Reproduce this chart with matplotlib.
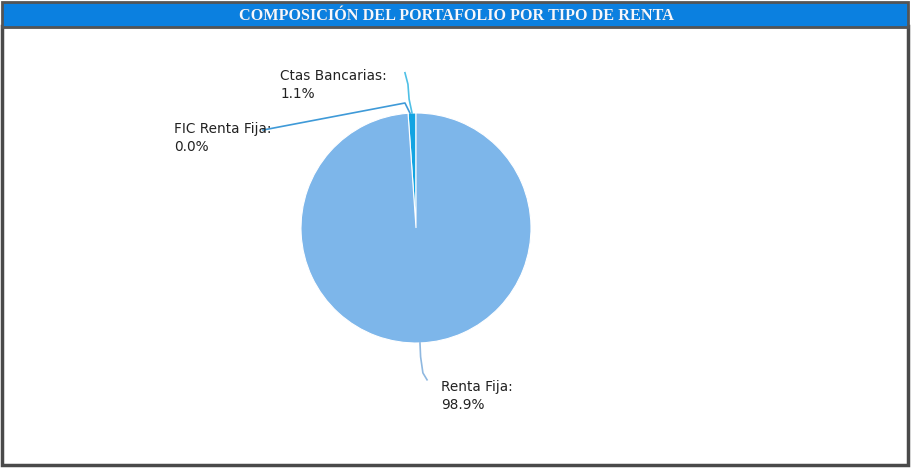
import numpy as np
import matplotlib.pyplot as plt
from matplotlib.patches import Rectangle

# data
labels = ['FIC Renta Fija', 'Ctas Bancarias', 'Renta Fija']
values = [0.0, 1.1, 98.9]
colors = ['#3f8fd8', '#12a4e2', '#7db6ea']
line_colors = ['#3f9ad8', '#4fc0e6', '#8fb8e0']
title = 'COMPOSICIÓN DEL PORTAFOLIO POR TIPO DE RENTA'

W, H = 912, 469
fig = plt.figure(figsize=(W / 100, H / 100), dpi=100)

# frame and title bar on a background axes
bg = fig.add_axes([0, 0, 1, 1], zorder=-1)
bg.set_xlim(0, W)
bg.set_ylim(H, 0)
bg.axis('off')
bg.add_patch(Rectangle((2.5, 26), 906, 439, facecolor='white', edgecolor='#4a4a4a', linewidth=2.5))
bg.add_patch(Rectangle((2.5, 2), 906, 25, facecolor='#0b80e0', edgecolor='#555555', linewidth=2))
bg.text(456 + 0.8, 15.5 + 0.8, title, color='#1a3550', fontsize=11.7, family='Liberation Serif',
        weight='bold', ha='center', va='center', alpha=0.5)
bg.text(456, 15.5, title, color='#f4f8ff', fontsize=11.7, family='Liberation Serif',
        weight='bold', ha='center', va='center')

# pie axes: center (416, 228) px, radius 115 px
cx, cy, r = 416, 228, 115
ax = fig.add_axes([(cx - r) / W, (H - cy - r) / H, 2 * r / W, 2 * r / H])
wedges, _ = ax.pie(values, colors=colors, startangle=90, counterclock=True, radius=1,
                   wedgeprops=dict(edgecolor='white', linewidth=0.8))
ax.set_xlim(-1, 1)
ax.set_ylim(-1, 1)
ax.set_aspect('equal')
ax.axis('off')

# label layout (data units, 1 = radius)
text_pos = {'FIC Renta Fija': (-2.10, 0.78), 'Ctas Bancarias': (-1.18, 1.24), 'Renta Fija': (0.22, -1.46)}
bend = {'FIC Renta Fija': [(-0.096, 1.087), (-1.33, 0.852)],
        'Ctas Bancarias': [(-0.06, 1.12), (-0.07, 1.25), (-0.096, 1.35)],
        'Renta Fija': [(0.04, -1.12), (0.06, -1.26), (0.096, -1.32)]}

for w, lab, val, lc in zip(wedges, labels, values, line_colors):
    mid = np.deg2rad((w.theta1 + w.theta2) / 2)
    if lab == 'FIC Renta Fija':
        mid = np.deg2rad(w.theta1 + 3)
    x0, y0 = np.cos(mid), np.sin(mid)
    pts = [(x0, y0)] + bend[lab]
    ax.plot([p[0] for p in pts], [p[1] for p in pts], color=lc, lw=1.2, clip_on=False)
    tx, ty = text_pos[lab]
    ax.text(tx, ty, f'{lab}:\n{val:.1f}%', ha='left', va='center', fontsize=9.8,
            color='#222222', linespacing=1.35, clip_on=False)

fig.savefig('out.png', dpi=100)
